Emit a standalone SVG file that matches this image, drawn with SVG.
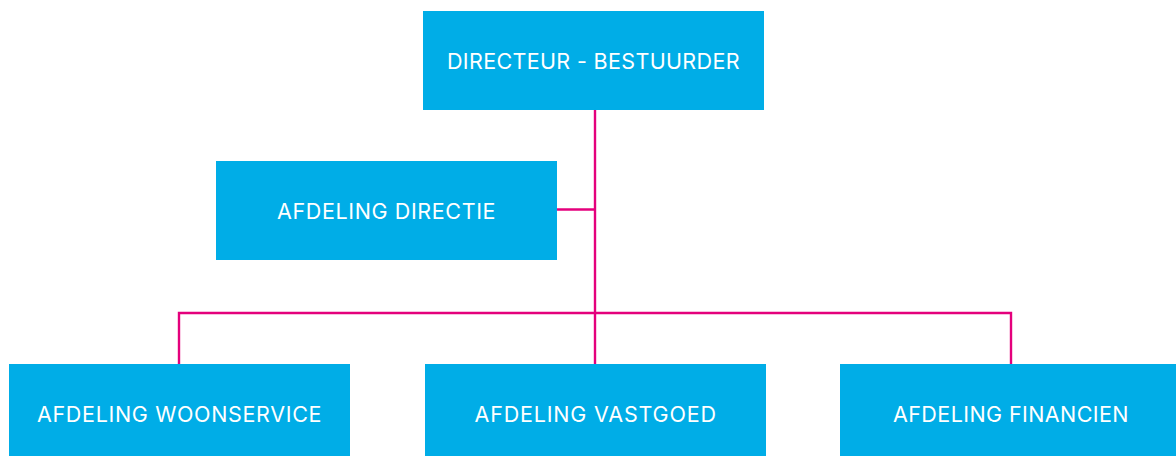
<svg xmlns="http://www.w3.org/2000/svg" width="1176" height="456" viewBox="0 0 1176 456">
<style>
.box{fill:#00ADE7}
.lbl{fill:#ffffff;font-family:Inter,"Liberation Sans",sans-serif;font-size:21.5px;text-anchor:middle;letter-spacing:0.5px}
.con{stroke:#E4007C;stroke-width:2.4;fill:none}
</style>
<rect width="1176" height="456" fill="#ffffff"/>
<g id="connectors">
<path class="con" d="M595 110V364"/>
<path class="con" d="M557 209.5H595"/>
<path class="con" d="M179 364V313H1011V364"/>
</g>
<g id="directeur">
<rect class="box" x="423" y="11" width="341" height="99"/>
<text class="lbl" x="593.5" y="69" textLength="293" lengthAdjust="spacing">DIRECTEUR - BESTUURDER</text>
</g>
<g id="directie">
<rect class="box" x="216" y="161" width="341" height="99"/>
<text class="lbl" x="386.5" y="219" textLength="219" lengthAdjust="spacing">AFDELING DIRECTIE</text>
</g>
<g id="woonservice">
<rect class="box" x="9" y="364" width="341" height="99"/>
<text class="lbl" x="179.5" y="422" textLength="285" lengthAdjust="spacing">AFDELING WOONSERVICE</text>
</g>
<g id="vastgoed">
<rect class="box" x="425" y="364" width="341" height="99"/>
<text class="lbl" x="595.5" y="422" textLength="242" lengthAdjust="spacing">AFDELING VASTGOED</text>
</g>
<g id="financien">
<rect class="box" x="840" y="364" width="341" height="99"/>
<text class="lbl" x="1011" y="422" textLength="236" lengthAdjust="spacing">AFDELING FINANCIEN</text>
</g>
</svg>
